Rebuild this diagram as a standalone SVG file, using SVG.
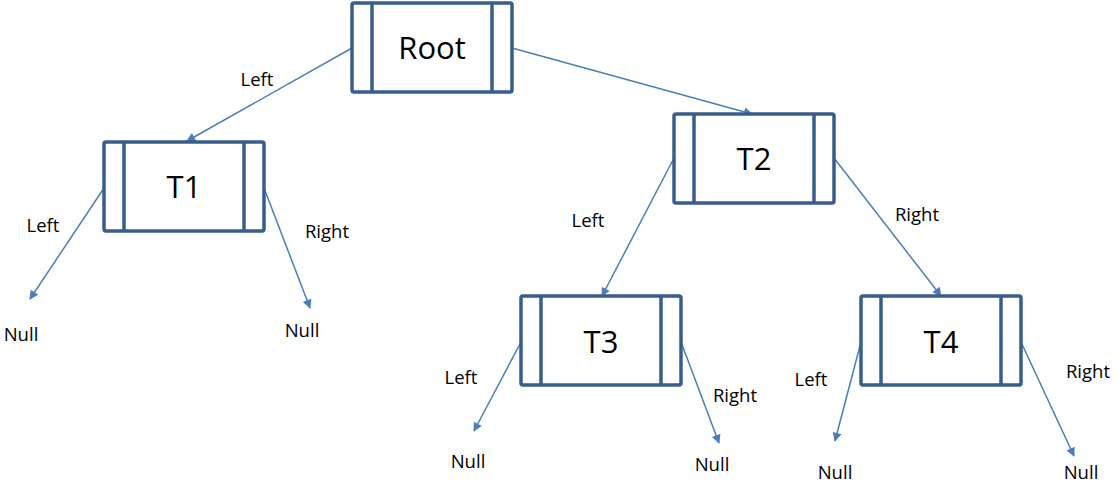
<svg xmlns="http://www.w3.org/2000/svg" width="1116" height="483" viewBox="0 0 1116 483">
<style>
.box{fill:#fff;stroke:#385d8a;stroke-width:3.5}
.bar{stroke:#385d8a;stroke-width:3.5}
.nt{font-family:"Open Sans","Liberation Sans",sans-serif;font-size:31px;fill:#000;text-anchor:middle}
.lb{font-family:"Open Sans","Liberation Sans",sans-serif;font-size:18.5px;fill:#000;text-anchor:middle}
.cn{stroke:#4a7ebb;stroke-width:1.5;fill:none;marker-end:url(#ah)}
</style>
<defs>
<marker id="ah" viewBox="0 0 10 10" refX="9" refY="5" markerWidth="10" markerHeight="9" markerUnits="userSpaceOnUse" orient="auto" overflow="visible">
<path d="M0,0 L10,5 L0,10 z" fill="#4a7ebb"/>
</marker>
</defs>
<rect width="1116" height="483" fill="#fff"/>
<g id="connectors">
<line class="cn" x1="352" y1="48" x2="187" y2="141"/>
<line class="cn" x1="512" y1="48" x2="752" y2="114"/>
<line class="cn" x1="104" y1="188" x2="30" y2="299"/>
<line class="cn" x1="264" y1="188" x2="310" y2="308"/>
<line class="cn" x1="674" y1="158" x2="602" y2="296"/>
<line class="cn" x1="834" y1="158" x2="941" y2="296"/>
<line class="cn" x1="521" y1="342" x2="474" y2="431"/>
<line class="cn" x1="681" y1="342" x2="719" y2="443"/>
<line class="cn" x1="861" y1="342" x2="835" y2="441"/>
<line class="cn" x1="1021" y1="342" x2="1074" y2="456"/>
</g>
<g id="labels">
<text class="lb" x="257" y="86">Left</text>
<text class="lb" x="43" y="232">Left</text>
<text class="lb" x="327" y="238">Right</text>
<text class="lb" x="588" y="227">Left</text>
<text class="lb" x="917" y="221">Right</text>
<text class="lb" x="461" y="384">Left</text>
<text class="lb" x="735" y="402">Right</text>
<text class="lb" x="811" y="386">Left</text>
<text class="lb" x="1088" y="378">Right</text>
<text class="lb" x="21" y="341">Null</text>
<text class="lb" x="302" y="337">Null</text>
<text class="lb" x="468" y="468">Null</text>
<text class="lb" x="712" y="471">Null</text>
<text class="lb" x="835" y="479">Null</text>
<text class="lb" x="1081" y="479">Null</text>
</g>
<g id="root">
<rect class="box" x="352" y="3" width="160" height="89" rx="2"/>
<line class="bar" x1="372" y1="3" x2="372" y2="92"/>
<line class="bar" x1="492" y1="3" x2="492" y2="92"/>
<text class="nt" x="432" y="59">Root</text>
</g>
<g id="t1">
<rect class="box" x="104" y="142" width="160" height="89" rx="2"/>
<line class="bar" x1="124" y1="142" x2="124" y2="231"/>
<line class="bar" x1="244" y1="142" x2="244" y2="231"/>
<text class="nt" x="184" y="198">T1</text>
</g>
<g id="t2">
<rect class="box" x="674" y="114" width="160" height="89" rx="2"/>
<line class="bar" x1="694" y1="114" x2="694" y2="203"/>
<line class="bar" x1="814" y1="114" x2="814" y2="203"/>
<text class="nt" x="754" y="170">T2</text>
</g>
<g id="t3">
<rect class="box" x="521" y="296" width="160" height="89" rx="2"/>
<line class="bar" x1="541" y1="296" x2="541" y2="385"/>
<line class="bar" x1="661" y1="296" x2="661" y2="385"/>
<text class="nt" x="601" y="353">T3</text>
</g>
<g id="t4">
<rect class="box" x="861" y="296" width="160" height="89" rx="2"/>
<line class="bar" x1="881" y1="296" x2="881" y2="385"/>
<line class="bar" x1="1001" y1="296" x2="1001" y2="385"/>
<text class="nt" x="941" y="353">T4</text>
</g>
</svg>
